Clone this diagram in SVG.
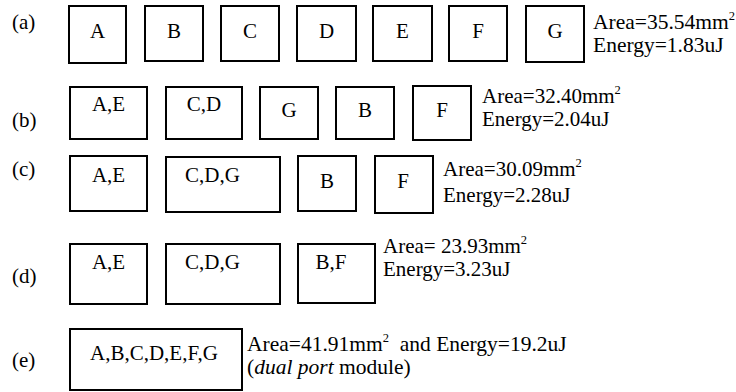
<svg xmlns="http://www.w3.org/2000/svg" width="736" height="392" viewBox="0 0 736 392">
<style>
text{font-family:"Liberation Serif","Times New Roman",serif;fill:#000;font-size:21px}
.lbl{font-size:21px}
.big{font-size:21.5px}
.e{font-size:21.5px}
.box{fill:#fff;stroke:#000;stroke-width:2}
.c{text-anchor:middle}
.sup{font-size:12.5px}
</style>
<rect width="736" height="392" fill="#fff"/>
<g id="labels">
<text class="lbl" x="12" y="29">(a)</text>
<text class="lbl" x="12" y="127">(b)</text>
<text class="lbl" x="12" y="176">(c)</text>
<text class="lbl" x="12" y="283">(d)</text>
<text class="lbl" x="12" y="367">(e)</text>
</g>
<g id="row-a">
<g id="a-A"><rect class="box" x="69" y="6" width="57" height="57"/><text class="c" x="97.5" y="38">A</text></g>
<g id="a-B"><rect class="box" x="145" y="6" width="58" height="55"/><text class="c" x="174" y="38">B</text></g>
<g id="a-C"><rect class="box" x="221" y="6" width="58" height="55"/><text class="c" x="250" y="38">C</text></g>
<g id="a-D"><rect class="box" x="297" y="6" width="59" height="55"/><text class="c" x="326.5" y="38">D</text></g>
<g id="a-E"><rect class="box" x="373" y="6" width="59" height="55"/><text class="c" x="402.5" y="38">E</text></g>
<g id="a-F"><rect class="box" x="449" y="6" width="58" height="55"/><text class="c" x="478" y="38">F</text></g>
<g id="a-G"><rect class="box" x="526" y="6" width="58" height="56"/><text class="c" x="555" y="38">G</text></g>
<text class="big" x="593" y="29">Area=35.54mm<tspan class="sup" dy="-9">2</tspan></text>
<text class="big" x="593" y="52">Energy=1.83uJ</text>
</g>
<g id="row-b">
<g id="b-AE"><rect class="box" x="70" y="87" width="77" height="52"/><text class="c" x="108.5" y="111">A,E</text></g>
<g id="b-CD"><rect class="box" x="166" y="87" width="76" height="52"/><text class="c" x="204" y="111">C,D</text></g>
<g id="b-G"><rect class="box" x="260" y="87" width="58" height="52"/><text class="c" x="289" y="117">G</text></g>
<g id="b-B"><rect class="box" x="336" y="87" width="58" height="52"/><text class="c" x="365" y="117">B</text></g>
<g id="b-F"><rect class="box" x="413" y="86" width="58" height="54"/><text class="c" x="442" y="117">F</text></g>
<text x="482" y="103">Area=32.40mm<tspan class="sup" dy="-9">2</tspan></text>
<text x="482" y="126">Energy=2.04uJ</text>
</g>
<g id="row-c">
<g id="c-AE"><rect class="box" x="70" y="156" width="77" height="55"/><text class="c" x="108.5" y="182">A,E</text></g>
<g id="c-CDG"><rect class="box" x="166" y="157" width="114" height="55"/><text x="185" y="182">C,D,G</text></g>
<g id="c-B"><rect class="box" x="298" y="156" width="58" height="55"/><text class="c" x="327" y="188">B</text></g>
<g id="c-F"><rect class="box" x="375" y="156" width="58" height="57"/><text class="c" x="403" y="188">F</text></g>
<text x="443" y="176">Area=30.09mm<tspan class="sup" dy="-9">2</tspan></text>
<text x="443" y="201.5">Energy=2.28uJ</text>
</g>
<g id="row-d">
<g id="d-AE"><rect class="box" x="70" y="244" width="77" height="60"/><text class="c" x="108.5" y="269">A,E</text></g>
<g id="d-CDG"><rect class="box" x="166" y="244" width="114" height="60"/><text x="185" y="269">C,D,G</text></g>
<g id="d-BF"><rect class="box" x="298" y="244" width="77" height="59"/><text class="c" x="331" y="269">B,F</text></g>
<text x="383" y="253">Area= 23.93mm<tspan class="sup" dy="-9">2</tspan></text>
<text x="383" y="276">Energy=3.23uJ</text>
</g>
<g id="row-e">
<g id="e-all"><rect class="box" x="70" y="329" width="172" height="61"/><text x="90" y="360">A,B,C,D,E,F,G</text></g>
<text class="e" x="247" y="351" xml:space="preserve">Area=41.91mm<tspan class="sup" dy="-9">2</tspan><tspan dy="9">  and Energy=19.2uJ</tspan></text>
<text class="e" x="247" y="374">(<tspan font-style="italic">dual port</tspan> module)</text>
</g>
<g id="connectors"/>
</svg>
